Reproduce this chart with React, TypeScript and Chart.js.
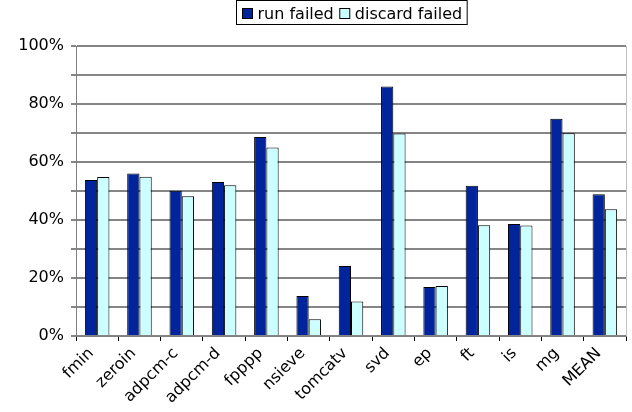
import React, { useEffect, useRef } from "react";
import { Chart, registerables } from "chart.js";

Chart.register(...registerables);

const categories = ["fmin", "zeroin", "adpcm-c", "adpcm-d", "fpppp", "nsieve", "tomcatv", "svd", "ep", "ft", "is", "mg", "MEAN"];
const runFailed = [53.8, 56.0, 50.1, 53.1, 68.6, 13.8, 24.1, 86.0, 16.9, 51.8, 38.6, 74.9, 48.9];
const discardFailed = [54.8, 54.9, 48.2, 52.0, 65.0, 5.8, 11.9, 69.8, 17.2, 38.2, 38.1, 69.9, 43.7];
const seriesNames = ["run failed", "discard failed"];
const yTickLabels = ["0%", "20%", "40%", "60%", "80%", "100%"];

const FONT = "'DejaVu Sans', Verdana, sans-serif";

const legendPlugin = {
  id: "boxLegend",
  afterDraw(chart: any) {
    const ctx = chart.ctx;
    const ds = chart.data.datasets;
    ctx.save();
    ctx.font = `16px ${FONT}`;
    const marker = 10;
    const gapM = 5;
    const gapItems = 6;
    const padL = 6;
    const padR = 5;
    const widths = ds.map((d: any) => ctx.measureText(d.label).width);
    let total = padL + padR;
    widths.forEach((w: number, i: number) => {
      total += marker + gapM + w + (i < widths.length - 1 ? gapItems : 0);
    });
    const ca = chart.chartArea;
    const cx = (ca.left + ca.right) / 2;
    const left = Math.round(cx - total / 2) + 0.5;
    const top = 0.5;
    const h = 24;
    ctx.fillStyle = "#ffffff";
    ctx.fillRect(left, top, total, h);
    ctx.strokeStyle = "#000000";
    ctx.lineWidth = 1;
    ctx.strokeRect(left, top, total, h);
    let x = left + padL;
    ds.forEach((d: any, i: number) => {
      ctx.fillStyle = d.backgroundColor;
      ctx.fillRect(x, 8.5, marker, marker);
      ctx.strokeStyle = "#000";
      ctx.strokeRect(x, 8.5, marker, marker);
      x += marker + gapM;
      ctx.fillStyle = "#000";
      ctx.textBaseline = "alphabetic";
      ctx.textAlign = "left";
      ctx.fillText(d.label, x, 19);
      x += widths[i] + gapItems;
    });
    ctx.restore();
  },
};

const framePlugin = {
  id: "frame",
  beforeDraw(chart: any) {
    const ctx = chart.ctx;
    ctx.save();
    ctx.fillStyle = "#ffffff";
    ctx.fillRect(0, 0, chart.width, chart.height);
    ctx.restore();
  },
  afterDatasetsDraw(chart: any) {
    const ctx = chart.ctx;
    const ca = chart.chartArea;
    ctx.save();
    ctx.strokeStyle = "#c0c0c0";
    ctx.lineWidth = 1;
    ctx.beginPath();
    ctx.moveTo(Math.round(ca.right) + 0.5, ca.top);
    ctx.lineTo(Math.round(ca.right) + 0.5, ca.bottom);
    ctx.stroke();
    ctx.restore();
  },
};

export default function App() {
  const ref = useRef<HTMLCanvasElement>(null);
  useEffect(() => {
    document.body.style.margin = "0";
    const chart = new Chart(ref.current!, {
      type: "bar",
      data: {
        labels: categories,
        datasets: [
          {
            label: seriesNames[0],
            data: runFailed,
            backgroundColor: "#00249C",
            borderColor: "#000000",
            borderWidth: 1,
            categoryPercentage: 0.58,
            barPercentage: 1,
          },
          {
            label: seriesNames[1],
            data: discardFailed,
            backgroundColor: "#CCFFFF",
            borderColor: "#000000",
            borderWidth: 1,
            categoryPercentage: 0.58,
            barPercentage: 1,
          },
        ],
      },
      options: {
        responsive: false,
        animation: false,
        layout: { padding: { top: 46, right: 6, left: 0, bottom: 0 } },
        plugins: {
          legend: { display: false },
          tooltip: { enabled: false },
        },
        scales: {
          x: {
            grid: {
              display: true,
              drawOnChartArea: false,
              drawTicks: true,
              tickLength: 5,
              offset: true,
              color: "#000000",
            },
            border: { color: "#808080", width: 1 },
            ticks: {
              font: { family: FONT, size: 16 },
              color: "#000000",
              minRotation: 45,
              maxRotation: 45,
              padding: 3,
              labelOffset: -6,
              autoSkip: false,
            },
            afterFit(scale: any) {
              scale.height = 76;
            },
          },
          y: {
            min: 0,
            max: 100,
            grid: {
              color: "#858585",
              lineWidth: 2,
              tickLength: 5,
              drawTicks: true,
            },
            border: { color: "#808080", width: 1 },
            ticks: {
              stepSize: 10,
              font: { family: FONT, size: 16 },
              color: "#000000",
              padding: 7,
              callback: (v: any) => (Number(v) % 20 === 0 ? yTickLabels[Number(v) / 20] : ""),
            },
            afterFit(scale: any) {
              scale.width = 76;
            },
          },
        },
      },
      plugins: [framePlugin, legendPlugin],
    });
    return () => chart.destroy();
  }, []);
  return (
    <div style={{ position: "fixed", left: 0, top: 0, width: 632, height: 412 }}>
      <canvas ref={ref} width={632} height={412} style={{ display: "block" }} />
    </div>
  );
}
